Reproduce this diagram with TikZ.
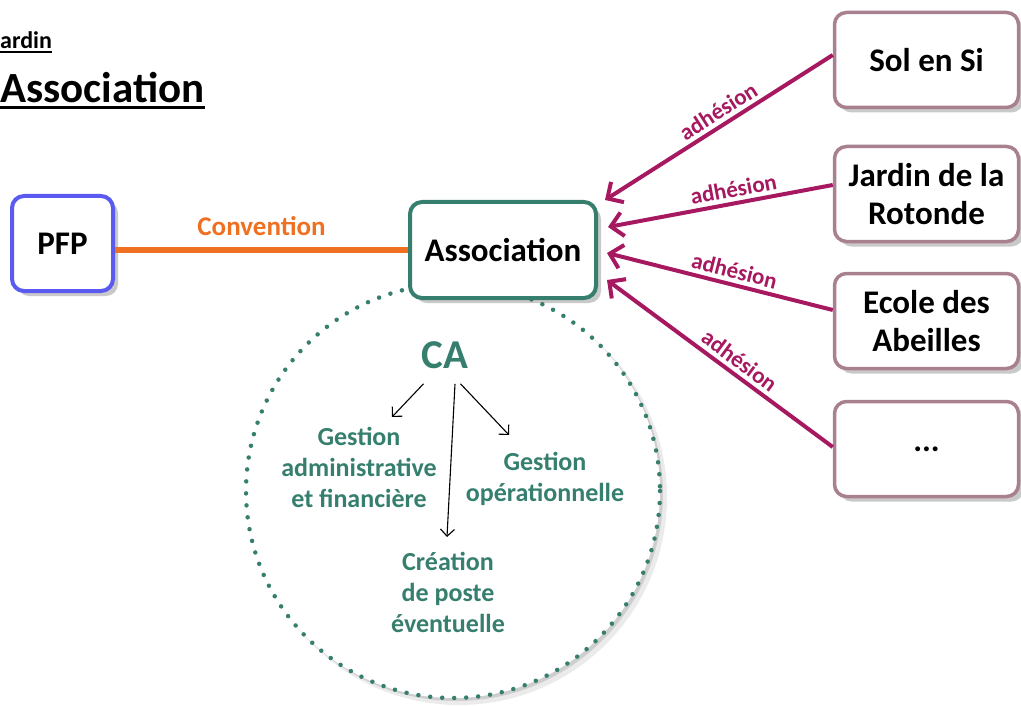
\documentclass[tikz,border=0pt]{standalone}
\usepackage{fontspec}
\setmainfont{Carlito}
\usetikzlibrary{arrows.meta,shadows,calc}
\definecolor{pfpblue}{HTML}{5A5AF0}
\definecolor{teal}{HTML}{367F6F}
\definecolor{conv}{HTML}{EE7020}
\definecolor{adh}{HTML}{A6185F}
\definecolor{mauve}{HTML}{A88090}
\begin{document}
\begin{tikzpicture}[x=1pt,y=-1pt,font=\bfseries,
  shad/.style={drop shadow={shadow xshift=5pt,shadow yshift=-5pt,opacity=.3,fill=black!70}},
  box/.style={draw,fill=white,rounded corners=12pt,inner sep=0pt,align=center,shad,
    font=\bfseries\fontsize{33}{37.5}\selectfont},
  ext/.style={box,draw=mauve,line width=3.5pt,minimum width=184pt,minimum height=95pt},
  catext/.style={text=teal,inner sep=0pt,align=center,font=\bfseries\fontsize{26}{31}\selectfont},
  adharrow/.style={draw=adh,line width=4pt,-{Straight Barb[length=12pt,width=24pt]}},
  adhlabel/.style={sloped,above=4pt,inner sep=0pt,text=adh,font=\bfseries\fontsize{23}{26}\selectfont},
  caarrow/.style={draw=black,line width=1.1pt,-{Straight Barb[length=7pt,width=14pt]}}]
\useasboundingbox (0,0) rectangle (1021,706);
% titles
\node[anchor=base west,inner sep=0pt,font=\bfseries\fontsize{24}{28}\selectfont] (t1) at (0,49) {ardin};
\draw[line width=2pt] ($(t1.base west)+(0,3)$) -- ($(t1.base east)+(0,3)$);
\node[anchor=base west,inner sep=0pt,font=\bfseries\fontsize{43}{50}\selectfont] (t2) at (0,103) {Association};
\draw[line width=2.5pt] ($(t2.base west)+(0,4.5)$) -- ($(t2.base east)+(0,4.5)$);
% circle
\fill[black,opacity=.08] (459,497) circle (208);
\fill[black,opacity=.12] (456,494) circle (207);
\fill[white] (453,491) circle (207);
\draw[teal,line width=4.5pt,line cap=round,dash pattern=on 0pt off 12pt] (453,491) circle (207);
% boxes
\node[box,draw=pfpblue,line width=4pt,minimum width=101pt,minimum height=95pt] (pfp) at (62.5,243.5) {PFP};
\node[box,draw=teal,line width=4pt,minimum width=186pt,minimum height=96pt] (assoc) at (503,250) {Association};
\node[ext] (sol) at (926.5,60) {Sol en Si};
\node[ext] (jar) at (926.5,194) {Jardin de la\\Rotonde};
\node[ext] (eco) at (926.5,321) {Ecole des\\Abeilles};
\node[ext] (etc) at (926.5,449) {...};
% convention
\draw[conv,line width=6pt] (pfp.east |- assoc.west) -- node[above=11pt,inner sep=0pt,text=conv,font=\bfseries\fontsize{27}{30}\selectfont] {Convention} (assoc.west);
% adhesion arrows
\coordinate (a1) at (605,200);
\coordinate (a2) at (608,227);
\coordinate (a3) at (607,253);
\coordinate (a4) at (607,280);
\draw[adharrow] ([yshift=5pt]sol.west) -- node[adhlabel,pos=.47] {adhésion} (a1);
\draw[adharrow] ([yshift=9pt]jar.west) -- node[adhlabel,pos=.43] {adhésion} (a2);
\draw[adharrow] ([yshift=11pt]eco.west) -- node[adhlabel,pos=.45] {adhésion} (a3);
\draw[adharrow] ([yshift=2pt]etc.west) -- node[adhlabel,pos=.45] {adhésion} (a4);
% CA
\node[text=teal,inner sep=0pt,font=\bfseries\fontsize{41}{48}\selectfont] (ca) at (445,355) {CA};
\node[catext] (g1) at (359,467) {Gestion\\administrative\\et financière};
\node[catext] (g2) at (545,479) {Gestion\\opérationnelle};
\node[catext] (g3) at (448,592) {Création\\de poste\\éventuelle};
\coordinate (c1) at (392,417);
\coordinate (c2) at (447,537);
\coordinate (c3) at (509,435);
\draw[caarrow] ([xshift=2pt,yshift=-15pt]ca.south west) -- (c1);
\draw[caarrow] ([xshift=10pt,yshift=-15pt]ca.south) -- (c2);
\draw[caarrow] ([xshift=-8pt,yshift=-15pt]ca.south east) -- (c3);
\end{tikzpicture}
\end{document}
